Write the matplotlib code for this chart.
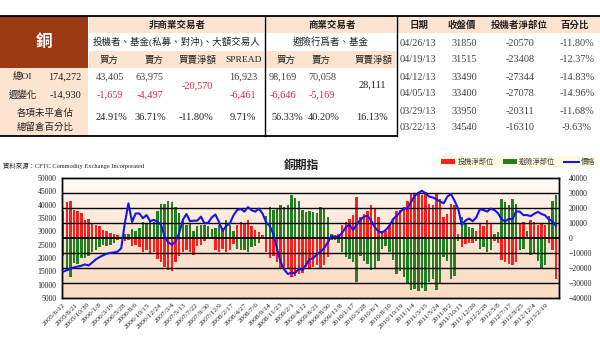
import numpy as np
import pandas as pd
import matplotlib
matplotlib.use('Agg')
import matplotlib.pyplot as plt
import matplotlib.dates as mdates
from matplotlib.colors import LinearSegmentedColormap
from matplotlib.patches import Rectangle

plt.rcParams['font.family'] = ['Liberation Serif', 'Noto Sans CJK TC']

# ---------------- data ----------------
start_date = '2005-06-12'
price = [14900, 15400, 16000, 16500, 16800, 17100, 17600, 17200, 18300, 19500,
         20300, 21000, 21600, 21900, 22100, 22400, 23600, 33000, 40500, 33500,
         36700, 36700, 34900, 36100, 33800, 34300, 33600, 32500, 28000, 25800,
         25000, 26100, 29300, 34300, 36500, 33800, 34000, 34000, 35500, 33000,
         33200, 35200, 36300, 33500, 30200, 32000, 33000, 36000, 38000, 38400,
         37400, 39100, 37900, 37400, 38500, 36700, 33400, 32000, 29000, 23500,
         18500, 15700, 14000, 14500, 14300, 16000, 15500, 17400, 19500, 19900,
         21400, 22300, 23700, 25800, 28200, 28000, 28000, 29500, 31500, 32500,
         30500, 32500, 34300, 35500, 35800, 34000, 31500, 30000, 29500, 30500,
         32000, 34500, 35800, 37200, 38600, 38500, 41000, 43300, 44400, 45200,
         44300, 43000, 42700, 42000, 41200, 40500, 43000, 44000, 41500, 38500,
         32400, 34000, 34800, 33800, 35200, 38300, 38000, 37400, 38500, 38000,
         36800, 34500, 33800, 34700, 34500, 37500, 37400, 36100, 36100, 35700,
         36600, 37300, 36500, 36000, 34500, 33900, 32000]

spec_net = [17800, 24000, 24400, 19000, 18000, 16600, 12000, 13000, 10000, 9000,
            8000, 5500, 5000, 3300, 3000, 2000, 1000, -2000, -1500, -5500,
            -4500, -6000, -9000, -8000, -10000, -9000, -14000, -16000, -19000, -21000,
            -22000, -16000, -12000, -9000, -8000, -9000, -11000, -5000, -4400, -2000,
            1000, 3000, -8000, -9000, -7000, -9000, -8000, -4000, 9000, 11000,
            10000, 12000, 8000, 5500, 4000, 2000, -9000, -13000, -12000, -16000,
            -20000, -19000, -20000, -26000, -25000, -24000, -23500, -19000, -20000, -19000,
            -18000, -20000, -17800, -12400, -1000, 2000, 3000, 9000, 11000, 13000,
            15500, 27500, 14000, 16000, 18000, 22000, 20000, 14000, 4400, 5000,
            8600, 12000, 18000, 19000, 21000, 25000, 30000, 30000, 31000, 29000,
            31000, 23000, 22000, 30000, 26000, 14000, 16000, 23000, 22000, 3000,
            -5800, -4000, -3500, -3000, 5000, 9800, 8000, 12000, 10000, -2000,
            -3000, -14600, -15800, -17000, -18000, -16000, 9800, 11000, 3000, 12000,
            11000, 8700, 10000, 9000, -3000, -8000, -27000]

hedge_net = [-12000, -22000, -26000, -16600, -17000, -13000, -13000, -12000, -9000, -7800,
             -6000, -4400, -5000, -4400, -3000, -1500, 1000, 3000, 2500, 6000,
             5000, 7000, 11000, 10000, 12000, 11000, 18000, 23000, 23000, 24400,
             24000, 21000, 17000, 12000, 9000, 10000, 5000, 8000, 9000, 9000,
             8000, 6000, 7000, 9000, 7000, 12000, 9000, 5000, -7000, -8000,
             -7800, -9000, -6000, -5000, -3000, 1000, 15000, 21000, 19000, 20000,
             22000, 21000, 22000, 29000, 27000, 25000, 18600, 17500, 18000, 17500,
             17000, 21000, 20000, 14000, 3000, -1000, -3000, -9000, -12400, -14000,
             -16000, -29000, -12000, -15500, -17000, -21000, -20000, -15000, -7000, -5000,
             -9000, -14600, -24000, -22000, -25700, -30000, -34600, -34000, -35000, -33000,
             -35000, -29000, -27000, -34600, -30000, -12400, -15000, -27000, -25000, -2000,
             14000, 10000, 7500, 7000, -2000, -7000, -6000, -9000, -8000, 3000,
             4000, 26000, 24000, 22000, 26000, 23000, -8000, -7000, 5000, -11000,
             -10000, -15000, -20000, -18000, 15000, 25000, 28600]

tick_labels = ['2005/6/12', '2005/8/21', '2005/10/30', '2006/1/8', '2006/3/19',
               '2006/5/28', '2006/8/6', '2006/10/15', '2006/12/24', '2007/3/4',
               '2007/5/13', '2007/7/22', '2007/9/30', '2007/12/9', '2008/2/17',
               '2008/4/27', '2008/7/6', '2008/9/14', '2008/11/23', '2009/2/1',
               '2009/4/12', '2009/6/21', '2009/8/30', '2009/11/8', '2010/1/17',
               '2010/3/28', '2010/6/1', '2010/8/10', '2010/10/19', '2011/1/4',
               '2011/3/15', '2011/5/24', '2011/8/2', '2011/10/11', '2011/12/20',
               '2012/2/28', '2012/5/8', '2012/7/17', '2012/9/25', '2012/12/4',
               '2013/2/19']

# table data
nc_long, nc_short, nc_net, nc_spread = '43,405', '63,975', '-20,570', '16,923'
nc_chg = ['-1,659', '-4,497', '-6,461']
nc_pct = ['24.91%', '36.71%', '-11.80%', '9.71%']
c_long, c_short, c_net = '98,169', '70,058', '28,111'
c_chg = ['-6,646', '-5,169']
c_pct = ['56.33%', '40.20%', '16.13%']
total_oi, week_chg = '174,272', '-14,930'
hist_dates = ['04/26/13', '04/19/13', '04/12/13', '04/05/13', '03/29/13', '03/22/13']
hist_close = ['31850', '31515', '33490', '33400', '33950', '34540']
hist_net = ['-20570', '-23408', '-27344', '-27078', '-20311', '-16310']
hist_pct = ['-11.80%', '-12.37%', '-14.83%', '-14.96%', '-11.68%', '-9.63%']

# ---------------- figure ----------------
W, H = 600, 356
fig = plt.figure(figsize=(6, 3.56), dpi=100)
fig.patch.set_facecolor('white')

PEACH = '#FCE4D0'
BROWN = '#9C3A14'
RED = '#FF1E1E'
GREEN = '#237F23'
BLUE = '#1515E6'
NUMRED = '#E0283A'
TXT = '#222222'
NUMC = '#444444'

# ---- table on a pixel-coordinate axes ----
tab = fig.add_axes([0, 0, 1, 1])
tab.set_xlim(0, W)
tab.set_ylim(H, 0)
tab.axis('off')
tab.set_zorder(0)

tab.add_patch(Rectangle((0, 16), 88, 52, color=BROWN, lw=0))
tab.add_patch(Rectangle((0, 68), 88, 68, color=PEACH, lw=0))
for x0, x1 in [(89, 264), (266, 396)]:
    tab.add_patch(Rectangle((x0, 16), x1 - x0, 17, color=PEACH, lw=0))
    tab.add_patch(Rectangle((x0, 51), x1 - x0, 17, color=PEACH, lw=0))
tab.add_patch(Rectangle((398, 16), 202, 17, color=PEACH, lw=0))

tab.plot([0, 600], [16, 16], color='black', lw=1.3)
tab.plot([0, 397], [136, 136], color='black', lw=1.3)
tab.plot([265, 265], [16, 136], color='black', lw=1.0)
tab.plot([397, 397], [16, 136], color='black', lw=1.0)

cjk = 6.8
num = 7.4
tab.text(44, 43, '銅', color='white', fontsize=12, fontweight='bold', ha='center', va='center')
tab.text(177, 25, '非商業交易者', fontsize=cjk, fontweight='bold', ha='center', va='center', color=TXT)
tab.text(177, 42, '投機者、基金(私募、對沖)、大額交易人', fontsize=cjk, ha='center', va='center', color=TXT)
tab.text(332, 25, '商業交易者', fontsize=cjk, fontweight='bold', ha='center', va='center', color=TXT)
tab.text(331, 42, '避險行爲者、基金', fontsize=cjk, ha='center', va='center', color=TXT)
for x, s in [(109, '買方'), (154, '賣方'), (198, '買賣淨額'), (244, 'SPREAD'),
             (286, '買方'), (321, '賣方'), (374, '買賣淨額')]:
    tab.text(x, 60, s, fontsize=cjk, ha='center', va='center', color=TXT)

tab.text(22, 77, '總OI', fontsize=cjk, ha='center', va='center', color=TXT)
tab.text(65, 77, total_oi, fontsize=num, ha='center', va='center', color=TXT)
tab.text(23, 95, '週變化', fontsize=cjk, ha='center', va='center', color=TXT)
tab.text(65, 95, week_chg, fontsize=num, ha='center', va='center', color=TXT)
tab.text(45, 113, '各項未平倉佔', fontsize=cjk, ha='center', va='center', color=TXT)
tab.text(45, 127, '總留倉百分比', fontsize=cjk, ha='center', va='center', color=TXT)

tab.text(110, 77, nc_long, fontsize=num, ha='center', va='center', color=NUMC)
tab.text(150, 77, nc_short, fontsize=num, ha='center', va='center', color=NUMC)
tab.text(197, 86, nc_net, fontsize=num, ha='center', va='center', color=NUMRED)
tab.text(243, 77, nc_spread, fontsize=num, ha='center', va='center', color=NUMC)
for x, s in zip([110, 150, 243], nc_chg):
    tab.text(x, 95, s, fontsize=num, ha='center', va='center', color=NUMRED)
for x, s in zip([111, 150, 196, 243], nc_pct):
    tab.text(x, 118, s, fontsize=num, ha='center', va='center', color=TXT)

tab.text(283, 77, c_long, fontsize=num, ha='center', va='center', color=NUMC)
tab.text(322, 77, c_short, fontsize=num, ha='center', va='center', color=NUMC)
tab.text(372, 85, c_net, fontsize=num, ha='center', va='center', color=TXT)
for x, s in zip([283, 322], c_chg):
    tab.text(x, 95, s, fontsize=num, ha='center', va='center', color=NUMRED)
for x, s in zip([287, 324, 372], c_pct):
    tab.text(x, 118, s, fontsize=num, ha='center', va='center', color=TXT)

for x, s in [(419, '日期'), (462, '收盤價'), (519, '投機者淨部位'), (575, '百分比')]:
    tab.text(x, 25, s, fontsize=cjk, fontweight='bold', ha='center', va='center', color=TXT)
row_y = [43, 60, 77, 94, 112, 128]
for y, d, c, n, p in zip(row_y, hist_dates, hist_close, hist_net, hist_pct):
    tab.text(418, y, d, fontsize=num, ha='center', va='center', color=NUMC)
    tab.text(464, y, c, fontsize=num, ha='center', va='center', color=NUMC)
    tab.text(520, y, n, fontsize=num, ha='center', va='center', color=NUMC)
    tab.text(577, y, p, fontsize=num, ha='center', va='center', color=NUMC)

# source + title
tab.text(3, 166, '資料來源：CFTC Commodity Exchange Incorporated', fontsize=4.6,
         ha='left', va='center', color=TXT)
tab.text(301, 166, '銅期指', fontsize=8.5, fontweight='bold', ha='center', va='center', color=TXT)

# ---- chart ----
dates = pd.date_range(start_date, periods=len(price), freq='21D')
x = mdates.date2num(dates.to_pydatetime())
x0 = x[0]
xlim = (x0 - 7, x0 + 410.5 * 7)

ax = fig.add_axes([62 / W, (H - 298) / H, 497 / W, 120 / H])
ax.set_zorder(2)
ax2 = ax.twinx()

grad = np.linspace(0, 1, 256).reshape(-1, 1)
cmap = LinearSegmentedColormap.from_list('bg', [(0, '#FBDCC4'), (0.55, '#FCE5D2'),
                                                (0.85, '#FEF3EA'), (1.0, '#FFFFFF')])
ax.imshow(grad, extent=[xlim[0], xlim[1], -40000, 40000], origin='lower',
          aspect='auto', cmap=cmap, zorder=0)

bw = 14
red_bars = ax.bar(x, spec_net, width=bw, color=RED, lw=0, zorder=2)
green_bars = ax.bar(x, hedge_net, width=bw, color=GREEN, lw=0, zorder=3)
for v in range(-30000, 30001, 10000):
    ax.axhline(v, color='black', lw=1.0 if v else 1.3, zorder=4)

ax.set_xlim(*xlim)
ax.set_ylim(-40000, 40000)
ax.set_yticks(range(-40000, 40001, 10000))
ax.yaxis.tick_right()
ax.tick_params(axis='y', length=0, pad=7, labelsize=5.6, labelcolor=TXT)

tick_pos = mdates.date2num(pd.date_range(start_date, periods=len(tick_labels), freq='70D').to_pydatetime())
ax.set_xticks(tick_pos)
ax.set_xticklabels(tick_labels, rotation=45, ha='right', rotation_mode='anchor',
                   fontsize=5.3, color=TXT)
ax.tick_params(axis='x', length=0, pad=3)

price_line, = ax2.plot(x, price, color=BLUE, lw=1.5, zorder=5)
ax2.set_ylim(5000, 50000)
ax2.set_yticks(range(5000, 50001, 5000))
ax2.yaxis.tick_left()
ax2.tick_params(axis='y', length=0, pad=4, labelsize=5.6, labelcolor=TXT)
ax2.set_xlim(*xlim)

for a in (ax, ax2):
    for s in a.spines.values():
        s.set_color('black')
        s.set_linewidth(1.0)

leg = fig.legend([red_bars, green_bars, price_line], ['投機淨部位', '避險淨部位', '價格'],
                 ncol=3, loc='upper right', bbox_to_anchor=(597 / W, 1 - 156 / H),
                 frameon=True, fancybox=False, facecolor='#FFFCDC', edgecolor='#FFFCDC',
                 fontsize=5.2, handlelength=2.0, handleheight=0.8, columnspacing=1.2,
                 handletextpad=0.3, borderpad=0.25, borderaxespad=0)
for t in leg.get_texts():
    t.set_color('#444444')

fig.savefig('out.png', dpi=100)
